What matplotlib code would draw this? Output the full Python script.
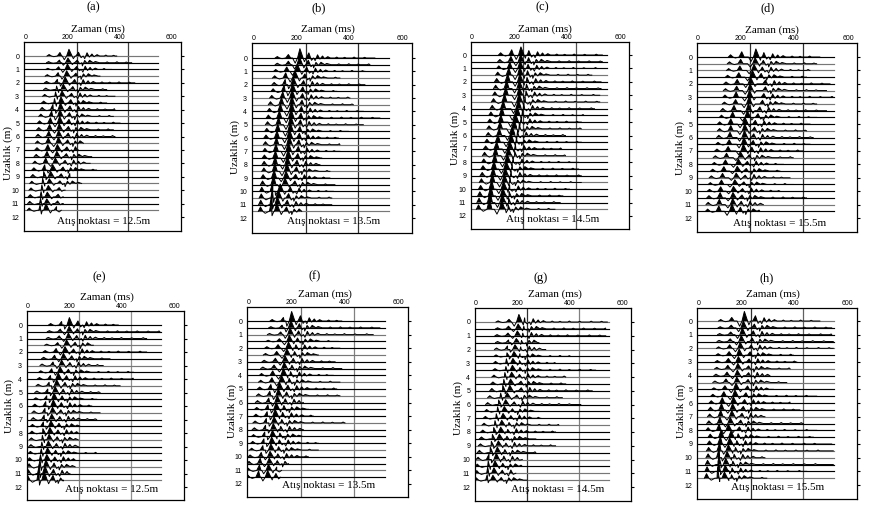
import matplotlib
matplotlib.use('Agg')
import matplotlib.pyplot as plt
import numpy as np

W, H = 870, 508
plt.rcParams['font.family'] = ['Liberation Serif', 'DejaVu Serif']

rows = [i * 0.5 for i in range(24)]
x_ticks = [4, 165, 365, 568]
x_tick_labels = ['0', '200', '400', '600']
y_ticks = list(range(13))

# wavelet shapes, ms from the pick and relative amplitude
main_dt = [-28, -18, -9, 0, 9, 17, 24]
main_w = [0, -0.55, 0, 1, 0.25, -0.4, 0]
front_dt = [-50, -42, -33, -24, -10, 0, 9]
front_w = [0, 0.55, 0, -0.25, 0, 1.3, 0]
third_dt = [-8, 2, 12, 20]
third_w = [0, 0.55, -0.25, 0]
coda_dt_1 = [26, 35, 44, 54, 62, 74, 84, 102, 108, 114, 132, 138, 144, 168, 174, 180, 208, 214, 220, 252, 258, 264, 292, 298, 304]
coda_a_1 = [-0.2, 0.24, -0.08, 0.15, -0.05, 0.1, 0, 0, 0.07, 0, 0, 0.05, 0, 0, 0.07, 0, 0, 0.05, 0, 0, 0.06, 0, 0, 0.05, 0]
coda_dt_2 = [22, 31, 41, 50, 64, 72, 88, 112, 118, 124, 150, 156, 162, 186, 192, 198, 226, 232, 238, 268, 274, 280, 310, 316, 322]
coda_a_2 = [-0.24, 0.17, -0.06, 0.18, 0, 0.09, 0, 0, 0.06, 0, 0, 0.07, 0, 0, 0.05, 0, 0, 0.06, 0, 0, 0.05, 0, 0, 0.06, 0]

# panel a
a_main = [170, 166, 164, 161, 155, 148, 143, 139, 137, 135, 134, 132, 130, 129, 125, 123, 117, 107, 99, 94, 90, 86, 84, 81]
a_front = [135, 133, 130, 128, 125, 122, 118, 114, 108, 103, 98, 95, 92, 90, 88, 85, 80, 76, 72, 68, 65, 62, 60, 58]
a_third = [205, 200, 198, 195, 190, 183, 178, 175, 172, 170, 168, 166, 165, 163, 160, 158, 153, 145, 138, 133, 130, 126, 124, 120]
a_amp = [.5, .35, .4, .4, .45, .4, .4, .45, .5, .5, .5, .45, .45, .45, .4, .4, .4, .4, .4, .35, .35, .35, .35, .5]
a_front_amp = [.2, .15, .15, .2, .2, .2, .25, .25, .3, .3, .3, .3, .3, .3, .3, .3, .3, .3, .3, .3, .3, .3, .3, .3]
a_coda = [355, 413, 335, 290, 425, 316, 348, 316, 348, 342, 368, 342, 348, 226, 206, 258, 252, 277, 174, 219, 155, 148, 148, 122]
a_gray = [0, 3, 6, 9, 13, 16, 19, 20, 23]

# panel b
b_main = [178, 176, 168, 159, 153, 150, 148, 147, 146, 144, 143, 141, 138, 137, 134, 133, 130, 128, 125, 121, 103, 96, 92, 90]
b_front = [134, 134, 128, 124, 122, 118, 113, 108, 104, 100, 97, 94, 91, 89, 87, 85, 84, 83, 80, 78, 75, 73, 71, 70]
b_third = [210, 208, 202, 195, 190, 187, 186, 184, 182, 180, 178, 176, 174, 172, 170, 168, 165, 163, 160, 157, 140, 133, 128, 125]
b_amp = [.7, .6, .55, .55, .55, .6, .6, .6, .65, .65, .65, .65, .65, .65, .65, .6, .6, .6, .5, .5, .55, .6, .6, .6]
b_front_amp = [.2, .2, .25, .3, .3, .35, .35, .4, .4, .4, .4, .4, .4, .4, .4, .4, .45, .45, .45, .5, .55, .55, .6, .6]
b_coda = [463, 444, 425, 330, 425, 318, 368, 381, 419, 482, 419, 362, 324, 330, 330, 261, 254, 292, 292, 311, 305, 299, 299, 185]
b_gray = [3, 6, 7, 10, 13, 17, 21, 23]

# panel c
c_main = [191, 190, 188, 187, 187, 185, 185, 184, 181, 176, 170, 165, 158, 153, 148, 143, 139, 135, 131, 128, 125, 122, 120, 118]
c_front = [156, 153, 149, 145, 141, 137, 134, 129, 124, 119, 115, 112, 109, 104, 99, 95, 92, 89, 86, 83, 80, 77, 74, 72]
c_third = [219, 218, 216, 214, 212, 210, 208, 205, 200, 195, 190, 183, 176, 172, 168, 165, 160, 156, 152, 148, 146, 144, 142, 140]
c_amp = [.6, .55, .55, .6, .6, .6, .6, .65, .65, .65, .65, .65, .65, .6, .6, .6, .6, .6, .6, .6, .6, .6, .65, .65]
c_front_amp = [.3, .3, .35, .4, .45, .45, .45, .45, .45, .45, .4, .4, .4, .4, .4, .45, .45, .45, .45, .5, .5, .55, .6, .6]
c_coda = [500, 500, 480, 460, 495, 495, 490, 490, 470, 430, 420, 420, 360, 420, 345, 360, 410, 410, 420, 420, 375, 350, 340, 320]
c_gray = [3, 6, 7, 11, 15, 19, 23]

# panel d
d_main = [222, 219, 215, 209, 202, 200, 198, 196, 194, 190, 181, 180, 179, 177, 175, 165, 156, 152, 148, 143, 138, 136, 135, 132]
d_front = [169, 165, 162, 158, 152, 150, 148, 146, 140, 135, 128, 128, 125, 122, 118, 112, 108, 102, 97, 93, 90, 88, 85, 83]
d_third = [250, 248, 244, 240, 256, 256, 250, 245, 235, 228, 218, 215, 212, 210, 205, 195, 188, 184, 180, 175, 170, 168, 165, 162]
d_amp = [.6, .45, .45, .5, .5, .5, .5, .5, .5, .5, .5, .5, .5, .5, .5, .4, .4, .35, .35, .35, .35, .4, .45, .55]
d_front_amp = [.3, .25, .25, .25, .25, .25, .3, .25, .3, .3, .3, .3, .3, .25, .25, .25, .25, .25, .25, .25, .25, .3, .3, .3]
d_coda = [462, 450, 425, 412, 500, 487, 512, 450, 487, 450, 425, 412, 437, 425, 400, 362, 325, 312, 350, 362, 312, 412, 250, 237]
d_gray = [1, 2, 5, 7, 11, 15, 18, 22]

# panel e
e_main = [163, 162, 159, 152, 146, 140, 133, 127, 120, 114, 108, 104, 101, 98, 95, 92, 88, 85, 82, 79, 76, 73, 69, 66]
e_front = [133, 128, 124, 118, 112, 106, 100, 95, 90, 85, 80, 76, 72, 69, 66, 63, 61, 59, 57, 55, 52, 50, 47, 45]
e_third = [194, 192, 189, 183, 177, 170, 163, 157, 150, 144, 137, 133, 130, 128, 124, 121, 117, 114, 111, 108, 105, 102, 100, 98]
e_amp = [.55, .4, .4, .4, .4, .4, .4, .4, .45, .45, .45, .45, .45, .4, .4, .4, .4, .4, .4, .4, .4, .5, .55, .65]
e_front_amp = [.2, .15, .15, .15, .2, .2, .2, .2, .2, .2, .2, .2, .25, .25, .25, .25, .25, .25, .25, .25, .3, .4, .5, .6]
e_coda = [351, 511, 460, 255, 460, 319, 293, 409, 409, 358, 281, 268, 249, 281, 268, 204, 197, 197, 197, 268, 185, 185, 165, 140]
e_gray = [3, 6, 9, 13, 17, 21, 23]

# panel f
f_main = [166, 163, 160, 157, 154, 148, 141, 138, 135, 128, 120, 116, 112, 108, 104, 100, 97, 94, 91, 88, 85, 82, 79, 76]
f_front = [135, 130, 125, 120, 115, 110, 105, 100, 95, 92, 88, 84, 80, 77, 74, 71, 68, 65, 62, 58, 52, 48, 45, 42]
f_third = [197, 193, 190, 186, 180, 175, 170, 165, 160, 155, 150, 145, 140, 135, 130, 127, 123, 120, 118, 115, 112, 110, 108, 105]
f_amp = [.7, .55, .5, .45, .45, .45, .45, .45, .5, .5, .5, .5, .5, .5, .5, .45, .45, .45, .45, .45, .4, .4, .45, .5]
f_front_amp = [.2, .15, .15, .15, .2, .2, .2, .2, .25, .25, .25, .25, .25, .25, .25, .25, .25, .25, .25, .25, .25, .3, .3, .35]
f_coda = [354, 497, 472, 341, 347, 266, 329, 354, 322, 347, 335, 347, 210, 229, 247, 366, 210, 216, 266, 266, 229, 154, 110, 97]
f_gray = [2, 5, 9, 11, 15, 19, 22]

# panel g
g_main = [170, 167, 164, 160, 155, 151, 147, 145, 142, 138, 135, 125, 119, 114, 109, 104, 100, 95, 91, 87, 83, 78, 74, 70]
g_front = [132, 130, 128, 130, 126, 124, 122, 120, 116, 112, 108, 100, 92, 88, 83, 78, 73, 68, 64, 60, 55, 52, 50, 48]
g_third = [190, 187, 183, 178, 175, 172, 170, 172, 170, 176, 177, 160, 150, 143, 137, 130, 125, 122, 118, 114, 110, 106, 104, 100]
g_amp = [.55, .35, .35, .3, .35, .35, .35, .35, .35, .35, .4, .35, .35, .35, .35, .35, .35, .35, .35, .4, .45, .4, .4, .35]
g_front_amp = [.15, .15, .15, .15, .2, .2, .25, .2, .25, .25, .3, .25, .25, .25, .25, .25, .25, .25, .25, .3, .3, .3, .35, .3]
g_coda = [510, 504, 504, 247, 273, 369, 311, 465, 350, 350, 452, 337, 408, 247, 254, 324, 311, 235, 311, 235, 183, 183, 158, 203]
g_gray = [0, 4, 8, 11, 15, 18, 20, 22, 23]

# panel h
h_main = [176, 172, 168, 164, 160, 156, 153, 151, 149, 147, 144, 140, 134, 131, 128, 122, 115, 125, 120, 115, 110, 105, 103, 100]
h_front = [128, 126, 124, 122, 120, 118, 115, 113, 110, 106, 102, 98, 92, 89, 86, 83, 80, 88, 85, 82, 80, 78, 76, 74]
h_third = [216, 212, 208, 204, 200, 196, 192, 190, 190, 188, 186, 180, 175, 170, 165, 160, 155, 150, 145, 140, 135, 130, 127, 125]
h_amp = [.7, .5, .5, .45, .45, .45, .4, .4, .4, .4, .45, .45, .45, .45, .45, .45, .45, .45, .45, .45, .45, .45, .45, .45]
h_front_amp = [.2, .15, .15, .15, .2, .2, .2, .2, .2, .2, .2, .25, .3, .35, .35, .35, .35, .4, .4, .45, .5, .55, .6, .6]
h_coda = [463, 508, 508, 514, 514, 362, 375, 350, 273, 337, 286, 451, 350, 387, 254, 400, 451, 438, 508, 514, 254, 514, 413, 261]
h_gray = [0, 4, 7, 9, 14, 19, 20, 23]

panel_names = ['(a)', '(b)', '(c)', '(d)', '(e)', '(f)', '(g)', '(h)']
shot_labels = ['Atış noktası = 12.5m', 'Atış noktası = 13.5m', 'Atış noktası = 14.5m', 'Atış noktası = 15.5m',
               'Atış noktası = 12.5m', 'Atış noktası = 13.5m', 'Atış noktası = 14.5m', 'Atış noktası = 15.5m']
mains = [a_main, b_main, c_main, d_main, e_main, f_main, g_main, h_main]
fronts = [a_front, b_front, c_front, d_front, e_front, f_front, g_front, h_front]
thirds = [a_third, b_third, c_third, d_third, e_third, f_third, g_third, h_third]
amps = [a_amp, b_amp, c_amp, d_amp, e_amp, f_amp, g_amp, h_amp]
front_amps = [a_front_amp, b_front_amp, c_front_amp, d_front_amp, e_front_amp, f_front_amp, g_front_amp, h_front_amp]
codas = [a_coda, b_coda, c_coda, d_coda, e_coda, f_coda, g_coda, h_coda]
grays = [a_gray, b_gray, c_gray, d_gray, e_gray, f_gray, g_gray, h_gray]

# layout in pixels of the reference
frames = [(24, 181, 42, 231), (252, 412, 43, 233), (471, 629, 42, 229), (697, 857, 43, 232),
          (27, 184, 311, 500), (247, 408, 307, 497), (475, 631, 308, 501), (697, 857, 308, 499)]
row_px = [(56, 217), (58, 218), (55, 216), (57, 218), (325, 487), (321, 484), (322, 487), (321, 485)]
grid_px = [(76.7, 128.3), (305.7, 358.3), (523.3, 576), (750, 803.3),
           (79, 131), (300.7, 354), (526.7, 578.7), (750.7, 803.3)]
title_px = [(93, 7), (319, 8), (542, 7), (768, 8), (99, 277), (315, 276), (541, 278), (767, 278)]
xlabel_px = [(98, 29), (328, 29), (545, 29), (772, 30), (107, 297), (325, 294), (555, 294), (773, 294)]
ylabel_px = [(8, 153), (235, 147), (455, 138), (680, 148), (9, 406), (232, 411), (458, 408), (681, 411)]
shot_px = [(104, 222), (334, 222), (553, 219), (780, 223), (112, 489), (329, 485), (558, 490), (778, 488)]
grid_colors = [('#303030', '#404040'), ('#303030', '#303030'), ('#404040', '#505050'), ('#303030', '#303030'),
               ('#808080', '#909090'), ('#707070', '#808080'), ('#303030', '#808080'), ('#303030', '#606060')]


def trace_knots(main, front, third, amp, front_amp, coda_end, odd):
    # joins the picked events into one wiggle
    t = []
    a = []
    events = [(front, front_amp, front_dt, front_w), (main, amp, main_dt, main_w), (third, amp, third_dt, third_w)]
    for pick, gain, dts, ws in events:
        for dt, w in zip(dts, ws):
            t.append(pick + dt)
            a.append(gain * w)
    coda_dt = coda_dt_2 if odd else coda_dt_1
    coda_a = coda_a_2 if odd else coda_a_1
    for dt, v in zip(coda_dt, coda_a):
        if third + dt < coda_end:
            t.append(third + dt)
            a.append(v)
    t.append(coda_end)
    a.append(0.0)
    order = np.argsort(t)
    return np.array(t, dtype=float)[order], np.array(a)[order]


fig = plt.figure(figsize=(W / 100, H / 100), dpi=100)

for p in range(8):
    left, right, top, bottom = frames[p]
    ax = fig.add_axes([left / W, 1 - bottom / H, (right - left) / W, (bottom - top) / H])
    g200, g400 = grid_px[p]
    ms_per_px = 200 / (g400 - g200)
    x0 = g200 - 200 / ms_per_px
    ax.set_xlim((left - x0) * ms_per_px, (right - x0) * ms_per_px)
    y0, y12 = row_px[p]
    m_per_px = 12 / (y12 - y0)
    ax.set_ylim((bottom - y0) * m_per_px, (top - y0) * m_per_px)

    ax.axvline(200, color=grid_colors[p][0], lw=0.9, zorder=1)
    ax.axvline(400, color=grid_colors[p][1], lw=0.9, zorder=1)

    for i, base in enumerate(rows):
        t, a = trace_knots(mains[p][i], fronts[p][i], thirds[p][i], amps[p][i], front_amps[p][i], codas[p][i], i % 2)
        col = '#777777' if i in grays[p] else 'black'
        ax.plot([0, 516], [base, base], color=col, lw=0.85, zorder=2 + i * 0.01)
        ax.fill_between(t, base, base - a, where=a > 0, interpolate=True, color='black', lw=0, zorder=3 + i * 0.01)
        ax.plot(t, base - a, color='black', lw=0.7, zorder=3 + i * 0.01)

    ax.xaxis.tick_top()
    ax.set_xticks(x_ticks, x_tick_labels, fontfamily='Liberation Sans', fontsize=5)
    ax.tick_params(axis='x', length=0, pad=0.5)
    ax.set_yticks(y_ticks, [str(v) for v in y_ticks], fontfamily='Liberation Sans', fontsize=5)
    ax.tick_params(axis='y', left=False, right=True, direction='out', length=2, width=0.8, pad=1.5)
    for s in ax.spines.values():
        s.set_linewidth(0.9)

    fig.text(title_px[p][0] / W, 1 - title_px[p][1] / H, panel_names[p], ha='center', va='center', fontsize=9)
    fig.text(xlabel_px[p][0] / W, 1 - xlabel_px[p][1] / H, 'Zaman (ms)', ha='center', va='center', fontsize=8)
    fig.text(ylabel_px[p][0] / W, 1 - ylabel_px[p][1] / H, 'Uzaklık (m)', ha='center', va='center', rotation=90, fontsize=8)
    fig.text(shot_px[p][0] / W, 1 - shot_px[p][1] / H, shot_labels[p], ha='center', va='center', fontsize=8)

fig.savefig('out.png', dpi=100)
